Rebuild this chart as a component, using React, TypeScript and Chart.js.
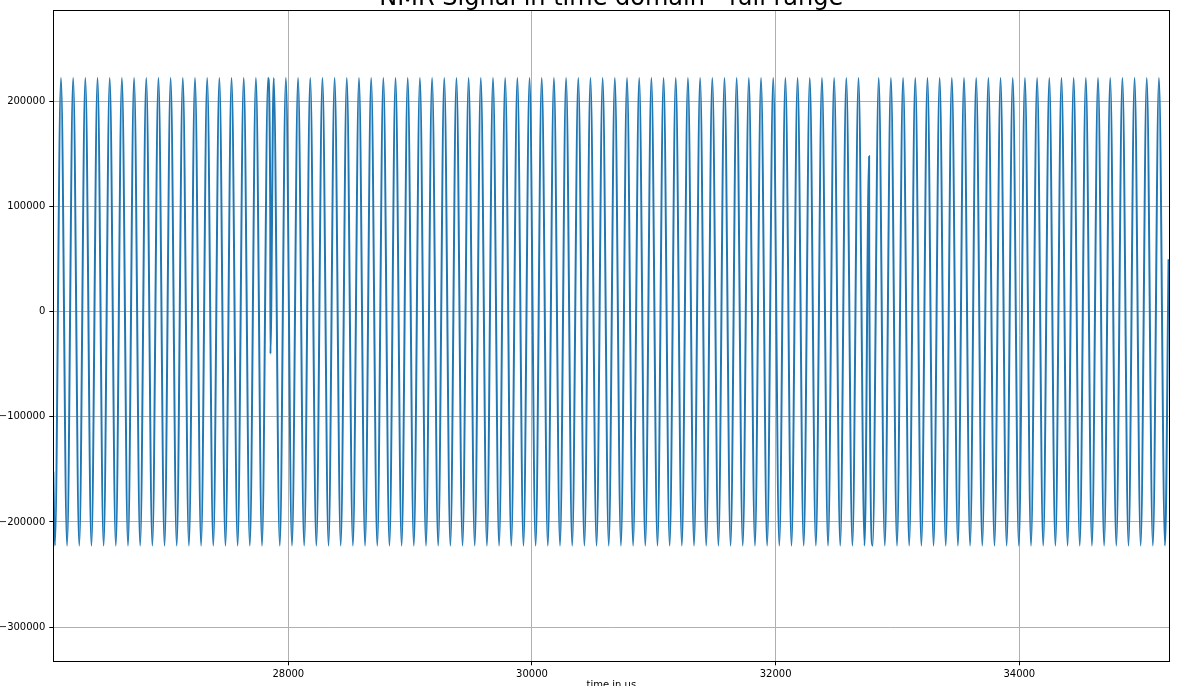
import React, { useEffect, useRef } from 'react';
import { Chart, registerables } from 'chart.js';

Chart.register(...registerables);

const TITLE = 'NMR Signal in time domain - full range';
const X_LABEL = 'time in us';
const FONT = '"DejaVu Sans", "Liberation Sans", sans-serif';

// Times (us) of the signal maxima
const peakTimes = [
  26134, 26234, 26334, 26434, 26534, 26634, 26734, 26834, 26934, 27034, 27134, 27234, 27334, 27434, 27534, 27634, 27734, 27834,
  27880, 27980, 28080, 28180, 28280, 28380, 28480, 28580, 28680, 28780, 28880, 28980, 29080, 29180, 29280, 29380, 29480,
  29580, 29680, 29780, 29880, 29980, 30080, 30180, 30280, 30380, 30480, 30580, 30680, 30780, 30880, 30980, 31080, 31180,
  31280, 31380, 31480, 31580, 31680, 31780, 31880, 31980, 32080, 32180, 32280, 32380, 32480, 32580, 32680,
  32846, 32946, 33046, 33146, 33246, 33346, 33446, 33546, 33646, 33746, 33846, 33946, 34046, 34146, 34246, 34346, 34446,
  34546, 34646, 34746, 34846, 34946, 35046, 35146,
];

// Times (us) of the signal minima
const troughTimes = [
  26084, 26184, 26284, 26384, 26484, 26584, 26684, 26784, 26884, 26984, 27084, 27184, 27284, 27384, 27484, 27584, 27684, 27784,
  27930, 28030, 28130, 28230, 28330, 28430, 28530, 28630, 28730, 28830, 28930, 29030, 29130, 29230, 29330, 29430, 29530,
  29630, 29730, 29830, 29930, 30030, 30130, 30230, 30330, 30430, 30530, 30630, 30730, 30830, 30930, 31030, 31130, 31230,
  31330, 31430, 31530, 31630, 31730, 31830, 31930, 32030, 32130, 32230, 32330, 32430, 32530, 32630, 32730,
  32796, 32896, 32996, 33096, 33196, 33296, 33396, 33496, 33596, 33696, 33796, 33896, 33996, 34096, 34196, 34296, 34396,
  34496, 34596, 34696, 34796, 34896, 34996, 35096, 35196,
];

const peakValue = 222500;
const troughValue = -222500;

// Start / end samples and the two buffer glitches
const extraTimes = [26071, 27852, 27853, 32767, 32768, 35225];
const extraValues = [-152000, 94800, -40000, 148000, 55000, 50000];

const xTicks = [28000, 30000, 32000, 34000];
const yTicks = [-300000, -200000, -100000, 0, 100000, 200000];

const X_MIN = 26071;
const X_MAX = 35231;
const Y_MIN = -332600;
const Y_MAX = 287200;

function buildPoints() {
  const pts: { x: number; y: number }[] = [];
  peakTimes.forEach((t) => pts.push({ x: t, y: peakValue }));
  troughTimes.forEach((t) => pts.push({ x: t, y: troughValue }));
  extraTimes.forEach((t, i) => pts.push({ x: t, y: extraValues[i] }));
  pts.sort((a, b) => a.x - b.x);
  return pts;
}

const framePlugin = {
  id: 'frameAndLabels',
  afterDraw(chart: any) {
    const { ctx, chartArea } = chart;
    const { left, right, top, bottom } = chartArea;
    ctx.save();
    ctx.strokeStyle = '#000';
    ctx.lineWidth = 1;
    ctx.strokeRect(Math.round(left) + 0.5, Math.round(top) + 0.5, Math.round(right) - Math.round(left), Math.round(bottom) - Math.round(top));
    const cx = (left + right) / 2;
    ctx.fillStyle = '#000';
    ctx.textAlign = 'center';
    ctx.textBaseline = 'alphabetic';
    ctx.font = `24px ${FONT}`;
    ctx.fillText(TITLE, cx, 4.5);
    ctx.font = `10px ${FONT}`;
    ctx.fillText(X_LABEL, cx, 688);
    ctx.restore();
  },
};

const fmt = (v: number) => (v < 0 ? '\u2212' + Math.abs(v) : String(v));

export default function App() {
  const ref = useRef<HTMLCanvasElement | null>(null);

  useEffect(() => {
    if (!ref.current) return;
    const chart = new Chart(ref.current, {
      type: 'line',
      data: {
        datasets: [
          {
            data: buildPoints(),
            borderColor: '#1f77b4',
            borderWidth: 2,
            pointRadius: 0,
            fill: false,
            cubicInterpolationMode: 'monotone',
          },
        ],
      },
      options: {
        animation: false,
        responsive: false,
        devicePixelRatio: 1,
        layout: { padding: { top: 9.3, right: 21.7, left: 0, bottom: 0 } },
        plugins: {
          legend: { display: false },
          title: { display: false },
          tooltip: { enabled: false },
        },
        scales: {
          x: {
            type: 'linear',
            min: X_MIN,
            max: X_MAX,
            afterFit: (s: any) => {
              s.height = 24.7;
            },
            afterBuildTicks: (s: any) => {
              s.ticks = xTicks.map((v) => ({ value: v }));
            },
            grid: { color: '#b0b0b0', lineWidth: 1, tickColor: '#000', tickLength: 4, tickWidth: 1 },
            border: { display: false },
            ticks: {
              color: '#000',
              font: { size: 10, family: FONT },
              padding: 3,
              maxRotation: 0,
              autoSkip: false,
              callback: (v: any) => String(v),
            },
          },
          y: {
            type: 'linear',
            min: Y_MIN,
            max: Y_MAX,
            afterFit: (s: any) => {
              s.width = 53.3;
            },
            afterBuildTicks: (s: any) => {
              s.ticks = yTicks.map((v) => ({ value: v }));
            },
            grid: { color: '#b0b0b0', lineWidth: 1, tickColor: '#000', tickLength: 4, tickWidth: 1 },
            border: { display: false },
            ticks: {
              color: '#000',
              font: { size: 10, family: FONT },
              padding: 4,
              autoSkip: false,
              callback: (v: any) => fmt(Number(v)),
            },
          },
        },
      },
      plugins: [framePlugin],
    } as any);
    return () => chart.destroy();
  }, []);

  return (
    <div style={{ position: 'fixed', left: 0, top: 0, width: 1191, height: 686, background: '#fff' }}>
      <canvas ref={ref} width={1191} height={686} />
    </div>
  );
}
